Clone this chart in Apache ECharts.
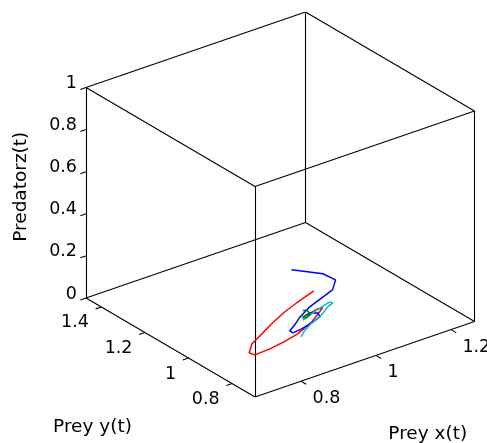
<!DOCTYPE html>
<html><head><meta charset="utf-8">
<script src="https://cdn.jsdelivr.net/npm/echarts@6.0.0/dist/echarts.min.js"></script>
<style>html,body{margin:0;padding:0;background:#fff}#c{width:487px;height:443px}</style>
</head><body><div id="c"></div>
<script>
// ---- axis limits and ticks ----
const xLim = [0.677, 1.263];
const yLim = [0.695, 1.470];
const zLim = [0, 1];
const xTicks = [0.8, 1, 1.2];
const yTicks = [0.8, 1, 1.2, 1.4];
const zTicks = [0, 0.2, 0.4, 0.6, 0.8, 1];
const xTickLabels = ['0.8', '1', '1.2'];
const yTickLabels = ['0.8', '1', '1.2', '1.4'];
const zTickLabels = ['0', '0.2', '0.4', '0.6', '0.8', '1'];
const xTitle = 'Prey x(t)';
const yTitle = 'Prey y(t)';
const zTitle = 'Predatorz(t)';

// ---- trajectories (x, y, z) ----
const blueX = [1.104, 1.125, 1.145, 1.149, 1.115, 1.074, 1.028, 0.979, 0.947, 0.925, 0.925, 0.951, 0.985, 1.016, 1.024, 1.011, 0.994, 1.000];
const blueY = [1.261, 1.224, 1.188, 1.136, 1.092, 1.071, 1.047, 1.010, 0.980, 0.962, 0.947, 0.952, 0.964, 0.980, 1.003, 1.017, 1.011, 1.012];
const blueZ = [0, 0, 0, 0, 0, 0, 0, 0, 0, 0, 0, 0, 0, 0, 0, 0, 0, 0];

const redX = [1.081, 1.018, 0.972, 0.920, 0.866, 0.825, 0.794, 0.798, 0.840, 0.884, 0.930, 0.988, 1.047, 1.035, 1.012, 0.995, 1.000];
const redY = [1.119, 1.089, 1.065, 1.031, 0.992, 0.963, 0.923, 0.903, 0.907, 0.918, 0.934, 0.969, 1.020, 1.023, 1.015, 1.009, 1.012];
const redZ = [0, 0, 0, 0, 0, 0, 0, 0, 0, 0, 0, 0, 0, 0, 0, 0, 0];

const cyanX = [0.927, 0.950, 0.981, 1.016, 1.058, 1.078, 1.076, 1.048, 1.016, 0.980, 0.985, 1.000];
const cyanY = [0.914, 0.937, 0.961, 0.980, 1.016, 1.027, 1.037, 1.026, 1.012, 0.993, 1.004, 1.012];
const cyanZ = [0, 0, 0, 0, 0, 0, 0, 0, 0, 0, 0, 0];

const greenX = [1.005, 1.014, 1.009, 0.991, 0.987, 1.000];
const greenY = [1.039, 1.037, 1.011, 0.998, 1.009, 1.012];
const greenZ = [0, 0, 0, 0, 0, 0];

// ---- view (orthographic projection of the unit box, in px; y up) ----
const VIEW = { ex: [219.5, 75.5], ey: [-169, 99], ez: [0, 210.5] };
function proj(x, y, z) {
  const u = (x - xLim[0]) / (xLim[1] - xLim[0]);
  const v = (y - yLim[0]) / (yLim[1] - yLim[0]);
  const w = (z - zLim[0]) / (zLim[1] - zLim[0]);
  return [u * VIEW.ex[0] + v * VIEW.ey[0] + w * VIEW.ez[0],
          u * VIEW.ex[1] + v * VIEW.ey[1] + w * VIEW.ez[1]];
}
const PX_MIN = VIEW.ey[0], PX_MAX = VIEW.ex[0];
const PY_MAX = VIEW.ex[1] + VIEW.ey[1] + VIEW.ez[1];

const FONT = '"DejaVu Sans", sans-serif';
const TICK_FS = 17.5, TITLE_FS = 18.5;

function path(X, Y, Z) { return X.map((x, i) => proj(x, Y[i], Z[i])); }

// box edges
const cx = xLim, cy = yLim, cz = zLim;
const edges = [];
for (const y of cy) for (const z of cz) edges.push([[cx[0], y, z], [cx[1], y, z]]);
for (const x of cx) for (const z of cz) edges.push([[x, cy[0], z], [x, cy[1], z]]);
for (const x of cx) for (const y of cy) edges.push([[x, y, cz[0]], [x, y, cz[1]]]);
const edgeData = edges.map(e => ({ coords: [proj(...e[0]), proj(...e[1])] }));

function norm(d) { const l = Math.hypot(d[0], d[1]); return [d[0] / l, d[1] / l]; }
// screen-space (y down) unit directions
const dirX = norm([-VIEW.ex[0], VIEW.ex[1]]);  // opposite of x axis
const dirY = norm([-VIEW.ey[0], VIEW.ey[1]]);  // opposite of y axis
const TL = 6;

function tickSeries(ticks, labels, toPoint, tickDir, labOff, align) {
  return {
    type: 'custom', coordinateSystem: 'cartesian2d', silent: true, clip: false,
    data: ticks.map((t, i) => [t, i]),
    renderItem: function (params, api) {
      const t = api.value(0), i = api.value(1);
      const p = api.coord(toPoint(t));
      return { type: 'group', children: [
        { type: 'line', shape: { x1: p[0], y1: p[1], x2: p[0] + tickDir[0] * TL, y2: p[1] + tickDir[1] * TL },
          style: { stroke: '#000', lineWidth: 1.1 } },
        { type: 'text', x: p[0] + labOff[0], y: p[1] + labOff[1],
          style: { text: labels[i], fill: '#000', fontSize: TICK_FS, fontFamily: FONT, align: align, verticalAlign: 'middle' } }
      ]};
    }
  };
}

function titleSeries(text, anchor, off, rot) {
  return {
    type: 'custom', coordinateSystem: 'cartesian2d', silent: true, clip: false,
    data: [[0, 0]],
    renderItem: function (params, api) {
      const p = api.coord(anchor);
      return { type: 'text', x: p[0] + off[0], y: p[1] + off[1], rotation: rot || 0,
        style: { text: text, fill: '#000', fontSize: TITLE_FS, fontFamily: FONT, align: 'center', verticalAlign: 'middle' } };
    }
  };
}

function curve(X, Y, Z, color) {
  return { type: 'line', data: path(X, Y, Z), showSymbol: false, symbol: 'none', smooth: false,
    lineStyle: { color: color, width: 1.5 }, z: 3, silent: true };
}

const chart = echarts.init(document.getElementById('c'), null, { renderer: 'canvas' });
chart.setOption({
  animation: false,
  backgroundColor: '#fff',
  grid: { left: 255 + PX_MIN, right: 487 - 255 - PX_MAX, top: 397 - PY_MAX, bottom: 443 - 397 },
  xAxis: { type: 'value', min: PX_MIN, max: PX_MAX, show: false },
  yAxis: { type: 'value', min: 0, max: PY_MAX, show: false },
  series: [
    { type: 'lines', coordinateSystem: 'cartesian2d', data: edgeData, silent: true,
      lineStyle: { color: '#000', width: 1.1, opacity: 1 }, z: 2 },
    tickSeries(xTicks, xTickLabels, t => proj(t, yLim[0], zLim[0]), [dirY[0], dirY[1]], [11.5, 17.5], 'left'),
    tickSeries(yTicks, yTickLabels, t => proj(xLim[0], t, zLim[0]), [dirX[0], dirX[1]], [-12.4, 16], 'right'),
    tickSeries(zTicks, zTickLabels, t => proj(xLim[0], yLim[1], t), [dirX[0], dirX[1]], [-9, -4], 'right'),
    titleSeries(xTitle, proj((xLim[0] + xLim[1]) / 2, yLim[0], zLim[0]), [63, 75]),
    titleSeries(yTitle, proj(xLim[0], (yLim[0] + yLim[1]) / 2, zLim[0]), [-78, 80]),
    titleSeries(zTitle, proj(xLim[0], yLim[1], (zLim[0] + zLim[1]) / 2), [-65, -6], Math.PI / 2),
    curve(redX, redY, redZ, '#ff0000'),
    curve(blueX, blueY, blueZ, '#0000ff'),
    curve(cyanX, cyanY, cyanZ, '#00bfbf'),
    curve(greenX, greenY, greenZ, '#008000')
  ]
});
</script>
</body></html>
